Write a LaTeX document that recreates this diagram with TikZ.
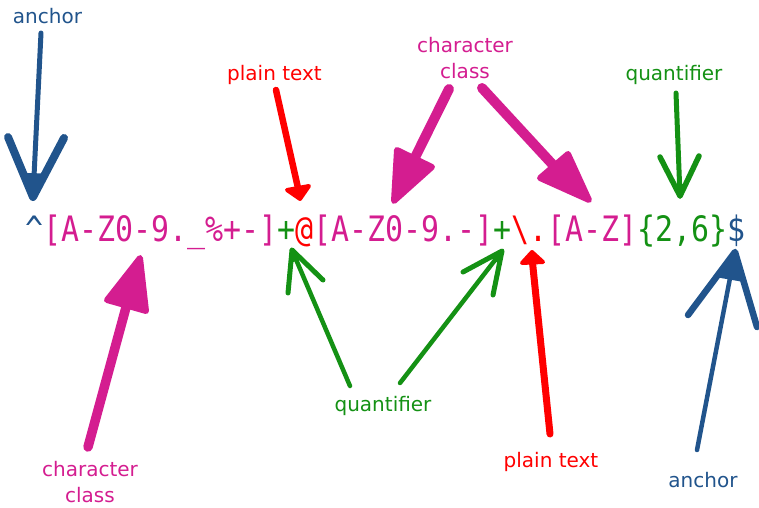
\documentclass[tikz,border=0pt]{standalone}
\usepackage{fontspec}
\setmainfont{DejaVu Sans}
\newfontfamily\remono[FakeStretch=0.855]{DejaVu Sans Mono}
\usetikzlibrary{calc}
\definecolor{ablue}{RGB}{33,84,140}
\definecolor{cmag}{RGB}{212,29,144}
\definecolor{pred}{RGB}{255,0,0}
\definecolor{qgreen}{RGB}{20,145,20}
\newcommand{\vhd}[5]{%
  \draw[#1, line cap=round, line join=round] (#3) -- (#2) -- (#4);
  \fill[#1] (#2) -- ($(#2)!#5!(#3)$) -- ($(#2)!#5!(#4)$) -- cycle;}
\newcommand{\fhd}[4]{%
  \filldraw[#1, line join=round] (#2) -- (#3) -- (#4) -- cycle;}
\tikzset{
  lbl/.style={font=\fontsize{20}{26}\selectfont, inner sep=0pt, align=center},
  shaft/.style={line cap=round},
}
\begin{document}
\begin{tikzpicture}[x=1pt,y=-1pt]
\path[use as bounding box] (0,0) rectangle (759,507);
% regex
\node[anchor=base west, inner sep=0pt, font=\remono\fontsize{35}{40}\selectfont] (re) at (25,241)
 {\textcolor{ablue}{\textasciicircum}\textcolor{cmag}{[A-Z0-9.\_\%+-]}\textcolor{qgreen}{+}\textcolor{pred}{@}\textcolor{cmag}{[A-Z0-9.-]}\textcolor{qgreen}{+}\textcolor{pred}{\textbackslash.}\textcolor{cmag}{[A-Z]}\textcolor{qgreen}{\{2,6\}}\textcolor{ablue}{\$}};
% labels
\node[lbl, text=ablue, anchor=base] (anc1) at (47.5,23) {anchor};
\node[lbl, text=pred, anchor=base] (pt1) at (274.5,80) {plain text};
\node[lbl, text=cmag, anchor=north] (cc1) at (465,37) {character\\class};
\node[lbl, text=qgreen, anchor=base] (q1) at (674,80) {quantifier};
\node[lbl, text=cmag, anchor=north] (cc2) at (90,461) {character\\class};
\node[lbl, text=qgreen, anchor=base] (q2) at (383,411) {quantifier};
\node[lbl, text=pred, anchor=base] (pt2) at (551,467) {plain text};
\node[lbl, text=ablue, anchor=base] (anc2) at (703,487) {anchor};
% coordinates
\coordinate (s1) at (41,33);   \coordinate (t1) at (33,197);  \coordinate (l1) at (8,137);   \coordinate (r1) at (64,138);
\coordinate (s2) at (276,90);  \coordinate (t2) at (300,199); \coordinate (l2) at (287,190); \coordinate (r2) at (309,186);
\coordinate (s3) at (449,89);  \coordinate (t3) at (394,201); \coordinate (l3) at (397,150); \coordinate (r3) at (432,167);
\coordinate (s4) at (482,88);  \coordinate (t4) at (589,200); \coordinate (l4) at (568,154); \coordinate (r4) at (540,178);
\coordinate (s5) at (676,93);  \coordinate (t5) at (680,196); \coordinate (l5) at (660,157); \coordinate (r5) at (699,156);
\coordinate (s6) at (88,447);  \coordinate (t6) at (140,258); \coordinate (l6) at (107,300); \coordinate (r6) at (146,311);
\coordinate (s7) at (350,386); \coordinate (t7) at (292,250); \coordinate (l7) at (288,293); \coordinate (r7) at (323,280);
\coordinate (s8) at (400,383); \coordinate (t8) at (502,251); \coordinate (l8) at (463,272); \coordinate (r8) at (493,295);
\coordinate (s9) at (550,434); \coordinate (t9) at (532,252); \coordinate (l9) at (522,263); \coordinate (r9) at (543,262);
\coordinate (s10) at (697,450); \coordinate (t10) at (735,252); \coordinate (l10) at (688,315); \coordinate (r10) at (757,327);
% blue top-left anchor
\draw[ablue, shaft, line width=5pt] (s1) -- (t1);
\vhd{ablue, line width=8pt}{t1}{l1}{r1}{0.4}
% red top plain text
\draw[pred, shaft, line width=6.5pt] (s2) -- ($(l2)!0.5!(r2)$);
\fhd{pred, line width=4pt}{t2}{l2}{r2}
% magenta top
\draw[cmag, shaft, line width=10pt] (s3) -- ($(l3)!0.5!(r3)$);
\fhd{cmag, line width=6pt}{t3}{l3}{r3}
\draw[cmag, shaft, line width=10pt] (s4) -- ($(l4)!0.5!(r4)$);
\fhd{cmag, line width=6pt}{t4}{l4}{r4}
% green top
\draw[qgreen, shaft, line width=5pt] (s5) -- (t5);
\vhd{qgreen, line width=5.5pt}{t5}{l5}{r5}{0.3}
% magenta bottom-left
\draw[cmag, shaft, line width=9.5pt] (s6) -- ($(l6)!0.5!(r6)$);
\fhd{cmag, line width=6pt}{t6}{l6}{r6}
% green bottom
\draw[qgreen, shaft, line width=4.5pt] (s7) -- (t7);
\vhd{qgreen, line width=5pt}{t7}{l7}{r7}{0.3}
\draw[qgreen, shaft, line width=4.5pt] (s8) -- (t8);
\vhd{qgreen, line width=5pt}{t8}{l8}{r8}{0.3}
% red bottom
\draw[pred, shaft, line width=7pt] (s9) -- ($(l9)!0.5!(r9)$);
\fhd{pred, line width=4pt}{t9}{l9}{r9}
% blue bottom
\draw[ablue, shaft, line width=4.5pt] (s10) -- (t10);
\vhd{ablue, line width=6.5pt}{t10}{l10}{r10}{0.4}
\end{tikzpicture}
\end{document}
